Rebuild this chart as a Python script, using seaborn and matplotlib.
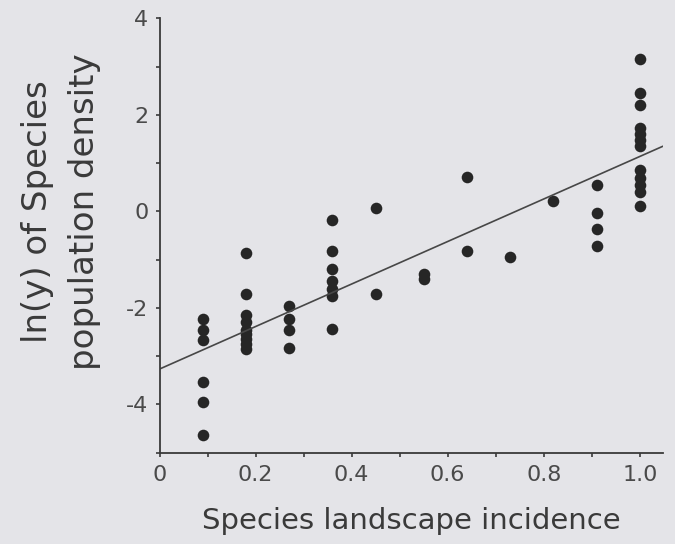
import seaborn as sns
import matplotlib.pyplot as plt
import pandas as pd
from matplotlib.ticker import MultipleLocator, FuncFormatter

# species landscape incidence (columns) and ln(density) readings per column
incidence = [0.09, 0.18, 0.27, 0.36, 0.45, 0.55, 0.64, 0.73, 0.82, 0.91, 1.0]
ln_density = [
    [-2.24, -2.45, -2.66, -3.53, -3.95, -4.63],
    [-0.86, -1.72, -2.15, -2.3, -2.45, -2.55, -2.65, -2.75, -2.85],
    [-1.96, -2.24, -2.45, -2.84],
    [-0.17, -0.82, -1.19, -1.45, -1.6, -1.75, -2.43],
    [0.07, -1.72],
    [-1.3, -1.4],
    [0.72, -0.82],
    [-0.95],
    [0.21],
    [0.54, -0.03, -0.36, -0.72],
    [3.15, 2.45, 2.2, 1.72, 1.6, 1.48, 1.35, 0.85, 0.7, 0.55, 0.4, 0.12],
]

rows = []
for x, ys in zip(incidence, ln_density):
    for y in ys:
        rows.append((x, y))
df = pd.DataFrame(rows, columns=["incidence", "lny"])

bg = "#e4e4e8"
sns.set_theme(style="ticks", rc={"figure.facecolor": bg, "axes.facecolor": bg})
plt.rcParams['font.family'] = ['DejaVu Sans']

fig = plt.figure(figsize=(6.75, 5.44), dpi=100)
ax = fig.add_axes([0.2363, 0.1678, 0.9820 - 0.2363, 0.9664 - 0.1678])
ax.set_xlim(0, 1.048)
ax.set_ylim(-5, 4)

sns.regplot(data=df, x="incidence", y="lny", ax=ax, ci=None, truncate=False,
            scatter_kws={"s": 70, "color": "#262626", "alpha": 1, "linewidths": 0},
            line_kws={"color": "#474747", "lw": 1.2})

ax.set_xlim(0, 1.048)
ax.set_ylim(-5, 4)
sns.despine(ax=ax)
for s in ["left", "bottom"]:
    ax.spines[s].set_color("#3a3a3a")
    ax.spines[s].set_linewidth(1.3)

ax.xaxis.set_major_locator(MultipleLocator(0.2))
ax.xaxis.set_minor_locator(MultipleLocator(0.1))
ax.yaxis.set_major_locator(MultipleLocator(2))
ax.yaxis.set_minor_locator(MultipleLocator(1))
ax.xaxis.set_major_formatter(FuncFormatter(lambda v, p: "0" if abs(v) < 1e-9 else f"{v:.1f}"))
ax.yaxis.set_major_formatter(FuncFormatter(lambda v, p: f"{int(round(v))}"))
ax.tick_params(which="both", direction="out", length=3, width=1.2, color="#3a3a3a",
               labelsize=16, labelcolor="#4a4a4a")
ax.tick_params(axis="x", pad=6)
ax.tick_params(axis="y", pad=5)

ax.set_xlabel("Species landscape incidence", fontsize=21, color="#3a3a3a", labelpad=16)
ax.set_ylabel("ln(y) of Species\npopulation density", fontsize=24.5, color="#3a3a3a",
              linespacing=1.55)
ax.yaxis.set_label_coords(-0.116, 0.554)

fig.savefig("out.png", dpi=100, facecolor=bg)
